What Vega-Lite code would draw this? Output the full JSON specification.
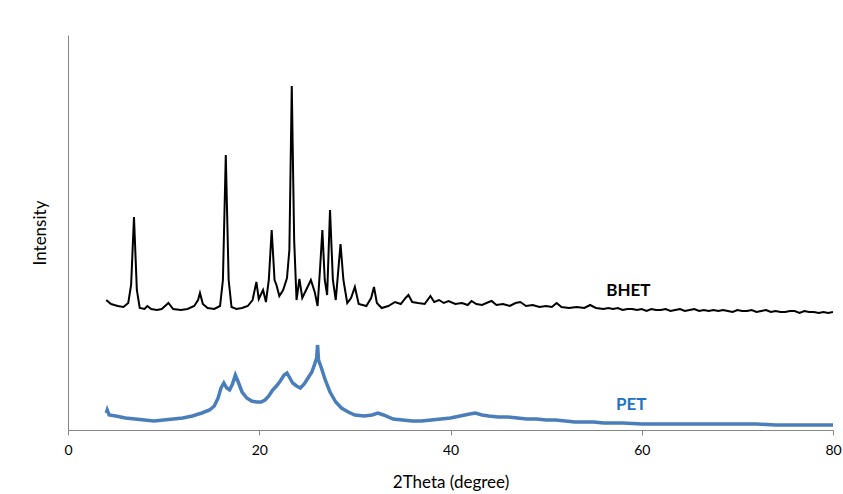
{
  "$schema": "https://vega.github.io/schema/vega-lite/v6.json",
  "width": 765,
  "height": 395,
  "autosize": "none",
  "padding": {"left": 68, "top": 35, "right": 10, "bottom": 64},
  "background": "white",
  "config": {
    "view": {"stroke": null},
    "font": "Lato",
    "axis": {"grid": false, "domainColor": "#868686", "tickColor": "#868686", "labelColor": "#000000", "titleColor": "#000000", "labelFont": "Lato", "titleFont": "Lato"}
  },
  "datasets": {
    "bhet": [
      {"t": 4.0, "v": 130}, {"t": 4.5, "v": 126}, {"t": 5.2, "v": 124}, {"t": 5.8, "v": 123}, {"t": 6.3, "v": 127}, {"t": 6.6, "v": 145}, {"t": 6.9, "v": 213}, {"t": 7.2, "v": 140}, {"t": 7.5, "v": 122},
      {"t": 8.0, "v": 121}, {"t": 8.3, "v": 124}, {"t": 8.7, "v": 121}, {"t": 9.3, "v": 120}, {"t": 9.8, "v": 121}, {"t": 10.5, "v": 127}, {"t": 11.0, "v": 121}, {"t": 11.8, "v": 120}, {"t": 12.5, "v": 121},
      {"t": 13.2, "v": 124}, {"t": 13.6, "v": 130}, {"t": 13.8, "v": 137}, {"t": 14.1, "v": 126}, {"t": 14.6, "v": 122}, {"t": 15.3, "v": 121}, {"t": 15.9, "v": 124}, {"t": 16.2, "v": 150}, {"t": 16.5, "v": 275},
      {"t": 16.8, "v": 150}, {"t": 17.1, "v": 123}, {"t": 17.6, "v": 121}, {"t": 18.2, "v": 122}, {"t": 18.8, "v": 124}, {"t": 19.3, "v": 130}, {"t": 19.7, "v": 148}, {"t": 19.95, "v": 131}, {"t": 20.2, "v": 136},
      {"t": 20.4, "v": 140}, {"t": 20.7, "v": 128}, {"t": 21.0, "v": 150}, {"t": 21.3, "v": 200}, {"t": 21.6, "v": 150}, {"t": 21.8, "v": 145}, {"t": 22.1, "v": 134}, {"t": 22.5, "v": 140}, {"t": 22.9, "v": 152},
      {"t": 23.15, "v": 180}, {"t": 23.4, "v": 344}, {"t": 23.65, "v": 190}, {"t": 23.9, "v": 130}, {"t": 24.2, "v": 151}, {"t": 24.5, "v": 132}, {"t": 24.9, "v": 140}, {"t": 25.4, "v": 150}, {"t": 25.8, "v": 138},
      {"t": 26.1, "v": 124}, {"t": 26.35, "v": 160}, {"t": 26.6, "v": 200}, {"t": 26.85, "v": 150}, {"t": 27.1, "v": 135}, {"t": 27.4, "v": 220}, {"t": 27.7, "v": 150}, {"t": 28.0, "v": 130}, {"t": 28.5, "v": 186},
      {"t": 28.8, "v": 150}, {"t": 29.2, "v": 127}, {"t": 29.6, "v": 132}, {"t": 30.0, "v": 143}, {"t": 30.4, "v": 126}, {"t": 31.2, "v": 124}, {"t": 31.7, "v": 132}, {"t": 32.0, "v": 143}, {"t": 32.3, "v": 127},
      {"t": 32.8, "v": 122}, {"t": 33.5, "v": 124}, {"t": 34.2, "v": 128}, {"t": 34.8, "v": 126}, {"t": 35.3, "v": 132}, {"t": 35.6, "v": 135}, {"t": 36.0, "v": 128}, {"t": 36.6, "v": 127}, {"t": 37.3, "v": 126},
      {"t": 37.9, "v": 134}, {"t": 38.3, "v": 128}, {"t": 38.8, "v": 130}, {"t": 39.3, "v": 127}, {"t": 39.8, "v": 129}, {"t": 40.5, "v": 126}, {"t": 41.2, "v": 127}, {"t": 41.8, "v": 125}, {"t": 42.2, "v": 129},
      {"t": 42.7, "v": 126}, {"t": 43.3, "v": 125}, {"t": 44.0, "v": 128}, {"t": 44.3, "v": 129}, {"t": 44.8, "v": 125}, {"t": 45.5, "v": 126}, {"t": 46.2, "v": 124}, {"t": 46.8, "v": 127}, {"t": 47.3, "v": 128},
      {"t": 47.9, "v": 124}, {"t": 48.6, "v": 125}, {"t": 49.3, "v": 123}, {"t": 50.0, "v": 124}, {"t": 50.6, "v": 123}, {"t": 51.1, "v": 127}, {"t": 51.6, "v": 123}, {"t": 52.4, "v": 122}, {"t": 53.2, "v": 123},
      {"t": 54.0, "v": 122}, {"t": 54.6, "v": 125}, {"t": 55.2, "v": 122}, {"t": 56.0, "v": 121}, {"t": 56.5, "v": 122}, {"t": 57.0, "v": 121}, {"t": 57.5, "v": 122}, {"t": 58.0, "v": 120}, {"t": 58.5, "v": 121},
      {"t": 59.0, "v": 121}, {"t": 59.5, "v": 120}, {"t": 60.0, "v": 121}, {"t": 60.5, "v": 119}, {"t": 61.0, "v": 121}, {"t": 61.5, "v": 120}, {"t": 62.0, "v": 120}, {"t": 62.5, "v": 121}, {"t": 63.0, "v": 119},
      {"t": 63.5, "v": 120}, {"t": 64.0, "v": 121}, {"t": 64.5, "v": 119}, {"t": 65.0, "v": 120}, {"t": 65.5, "v": 121}, {"t": 66.0, "v": 119}, {"t": 66.5, "v": 120}, {"t": 67.0, "v": 119}, {"t": 67.5, "v": 120},
      {"t": 68.0, "v": 119}, {"t": 68.5, "v": 120}, {"t": 69.0, "v": 119}, {"t": 69.5, "v": 118}, {"t": 70.0, "v": 120}, {"t": 70.5, "v": 119}, {"t": 71.0, "v": 119}, {"t": 71.5, "v": 120}, {"t": 72.0, "v": 118},
      {"t": 72.5, "v": 119}, {"t": 73.0, "v": 120}, {"t": 73.5, "v": 118}, {"t": 74.0, "v": 119}, {"t": 74.5, "v": 118}, {"t": 75.0, "v": 118}, {"t": 75.5, "v": 119}, {"t": 76.0, "v": 119}, {"t": 76.5, "v": 117},
      {"t": 77.0, "v": 119}, {"t": 77.5, "v": 118}, {"t": 78.0, "v": 118}, {"t": 78.5, "v": 117}, {"t": 79.0, "v": 118}, {"t": 79.5, "v": 117}, {"t": 80.2, "v": 118}
    ],
    "pet": [
      {"t": 4.0, "v": 17}, {"t": 4.1, "v": 20}, {"t": 4.3, "v": 15}, {"t": 5.0, "v": 14}, {"t": 6.0, "v": 12}, {"t": 7.0, "v": 11}, {"t": 8.0, "v": 10}, {"t": 9.0, "v": 9}, {"t": 10.0, "v": 10},
      {"t": 11.0, "v": 11}, {"t": 12.0, "v": 12}, {"t": 13.0, "v": 14}, {"t": 14.0, "v": 17}, {"t": 14.8, "v": 20}, {"t": 15.3, "v": 24}, {"t": 15.7, "v": 32}, {"t": 16.0, "v": 42}, {"t": 16.3, "v": 47},
      {"t": 16.6, "v": 42}, {"t": 16.9, "v": 40}, {"t": 17.2, "v": 46}, {"t": 17.5, "v": 55}, {"t": 17.8, "v": 48}, {"t": 18.2, "v": 38}, {"t": 18.7, "v": 32}, {"t": 19.2, "v": 29}, {"t": 19.7, "v": 28},
      {"t": 20.2, "v": 28}, {"t": 20.6, "v": 30}, {"t": 21.0, "v": 34}, {"t": 21.4, "v": 40}, {"t": 21.8, "v": 44}, {"t": 22.2, "v": 49}, {"t": 22.6, "v": 55}, {"t": 22.9, "v": 57}, {"t": 23.2, "v": 52},
      {"t": 23.5, "v": 47}, {"t": 23.9, "v": 44}, {"t": 24.3, "v": 42}, {"t": 24.7, "v": 46}, {"t": 25.1, "v": 52}, {"t": 25.5, "v": 58}, {"t": 25.8, "v": 66}, {"t": 26.0, "v": 72}, {"t": 26.1, "v": 85},
      {"t": 26.2, "v": 70}, {"t": 26.5, "v": 62}, {"t": 26.9, "v": 50}, {"t": 27.4, "v": 38}, {"t": 28.0, "v": 28}, {"t": 28.6, "v": 22}, {"t": 29.3, "v": 18}, {"t": 30.0, "v": 15}, {"t": 31.0, "v": 14},
      {"t": 31.8, "v": 15}, {"t": 32.4, "v": 17}, {"t": 33.0, "v": 15}, {"t": 34.0, "v": 11}, {"t": 35.0, "v": 10}, {"t": 36.0, "v": 9}, {"t": 37.0, "v": 9}, {"t": 38.0, "v": 10}, {"t": 39.0, "v": 11},
      {"t": 40.0, "v": 12}, {"t": 41.0, "v": 14}, {"t": 42.0, "v": 16}, {"t": 42.6, "v": 17}, {"t": 43.3, "v": 15}, {"t": 44.0, "v": 14}, {"t": 45.0, "v": 13}, {"t": 46.0, "v": 13}, {"t": 47.0, "v": 12},
      {"t": 48.0, "v": 11}, {"t": 49.0, "v": 11}, {"t": 50.0, "v": 10}, {"t": 51.0, "v": 10}, {"t": 52.0, "v": 9}, {"t": 53.0, "v": 8}, {"t": 54.0, "v": 8}, {"t": 55.0, "v": 8}, {"t": 56.0, "v": 7},
      {"t": 57.0, "v": 7}, {"t": 58.0, "v": 7}, {"t": 60.0, "v": 6}, {"t": 62.0, "v": 6}, {"t": 64.0, "v": 6}, {"t": 66.0, "v": 6}, {"t": 68.0, "v": 6}, {"t": 70.0, "v": 6}, {"t": 72.0, "v": 6},
      {"t": 74.0, "v": 5}, {"t": 76.0, "v": 5}, {"t": 78.0, "v": 5}, {"t": 80.2, "v": 5}
    ],
    "labels": [
      {"t": 58.6, "v": 139, "name": "BHET", "c": "black"},
      {"t": 58.9, "v": 25, "name": "PET", "c": "blue"}
    ]
  },
  "encoding": {
    "x": {"field": "t", "type": "quantitative", "scale": {"domain": [0, 80], "clamp": true, "nice": false},
      "axis": {"title": "2Theta (degree)", "values": [0, 20, 40, 60, 80], "tickSize": 5, "labelPadding": 8, "labelFlush": false, "labelFontSize": 14, "titleFontSize": 17, "titleFontWeight": "normal", "titlePadding": 17}},
    "y": {"field": "v", "type": "quantitative", "scale": {"domain": [0, 395], "nice": false},
      "axis": {"title": "Intensity", "labels": false, "ticks": false, "titleFontSize": 17, "titleFontWeight": "normal", "titlePadding": 19}}
  },
  "layer": [
    {"data": {"name": "pet"}, "mark": {"type": "line", "color": "#4A7EBB", "strokeWidth": 3.5, "clip": true}},
    {"data": {"name": "bhet"}, "mark": {"type": "line", "color": "#000000", "strokeWidth": 2, "clip": true}},
    {"data": {"name": "labels"}, "mark": {"type": "text", "font": "Lato", "fontSize": 17, "fontWeight": "bold", "align": "center", "baseline": "middle"},
      "encoding": {"text": {"field": "name"}, "color": {"field": "c", "type": "nominal", "scale": {"domain": ["black", "blue"], "range": ["#000000", "#1F74C3"]}, "legend": null}}}
  ]
}
